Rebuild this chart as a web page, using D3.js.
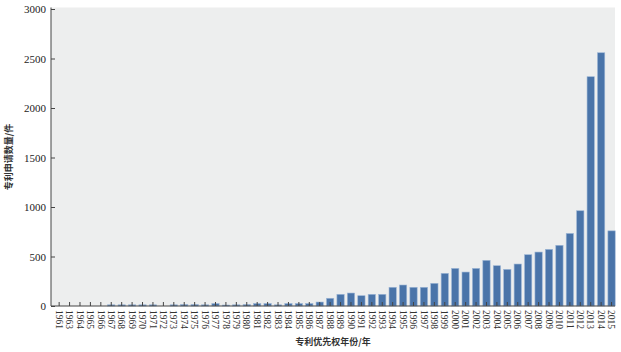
<!DOCTYPE html>
<html lang="zh">
<head>
  <meta charset="UTF-8">
  <title>专利申请数量</title>
  <style>
    body { margin: 0; background: #fff; }
    .tick text { font-family: "Liberation Serif", serif; fill: #222; }
    .axis-title { font-family: "Noto Sans CJK SC", sans-serif; font-weight: 700; font-size: 9px; fill: #333; }
  </style>
</head>
<body>
  <svg id="chart" width="621" height="352"></svg>
  <script src="https://d3js.org/d3.v7.min.js"></script>
  <script>
    // categories (no 1962 in the source)
    const years = ["1961","1963","1964","1965","1966","1967","1968","1969","1970","1971",
                   "1972","1973","1974","1975","1976","1977","1978","1979","1980","1981",
                   "1982","1983","1984","1985","1986","1987","1988","1989","1990","1991",
                   "1992","1993","1994","1995","1996","1997","1998","1999","2000","2001",
                   "2002","2003","2004","2005","2006","2007","2008","2009","2010","2011",
                   "2012","2013","2014","2015"];
    const counts = [0, 0, 0, 0, 0, 12, 12, 12, 12, 12,
                    0, 12, 15, 15, 12, 25, 10, 12, 15, 25,
                    25, 12, 25, 25, 25, 40, 78, 118, 131, 104,
                    118, 118, 189, 212, 189, 189, 229, 330, 380, 343,
                    380, 461, 407, 370, 424, 518, 545, 572, 613, 733,
                    962, 2316, 2558, 759];
    const yTicks = [0, 500, 1000, 1500, 2000, 2500, 3000];

    const svg = d3.select('#chart');
    const plotL = 51, plotR = 615, plotT = 7.5, plotB = 306;

    const x = d3.scaleBand().domain(years).range([55.5, 615.2]).paddingInner(0.3).paddingOuter(0);
    const y = d3.scaleLinear().domain([0, 3000]).range([plotB, 9]);

    // plot background
    svg.append('rect')
      .attr('x', plotL).attr('y', plotT)
      .attr('width', plotR - plotL).attr('height', plotB - plotT)
      .attr('fill', '#edeeee');

    // bars
    svg.selectAll('rect.bar')
      .data(years)
      .enter()
      .append('rect')
        .attr('class', 'bar')
        .attr('x', d => x(d))
        .attr('y', (d, i) => y(counts[i]))
        .attr('width', x.bandwidth())
        .attr('height', (d, i) => plotB - y(counts[i]))
        .attr('fill', '#4a74a9')
        .attr('stroke', '#9db6d6')
        .attr('stroke-width', 0.6);

    // y axis, ticks pointing inward
    const yAxis = svg.append('g')
      .attr('transform', `translate(${plotL},0)`)
      .call(d3.axisRight(y).tickValues(yTicks).tickFormat(d3.format('d')).tickSize(4).tickSizeOuter(0));
    yAxis.select('.domain').attr('stroke', '#444').attr('d', `M0,${plotT}V${plotB}`);
    yAxis.selectAll('.tick line').attr('stroke', '#444');
    yAxis.selectAll('.tick text')
      .attr('x', -5)
      .attr('text-anchor', 'end')
      .style('font-size', '11px');

    // x axis, ticks pointing up into the plot
    const xAxis = svg.append('g')
      .attr('transform', `translate(0,${plotB})`)
      .call(d3.axisTop(x).tickSize(4).tickSizeOuter(0));
    xAxis.select('.domain').attr('stroke', '#444').attr('d', `M${plotL},0H${plotR}`);
    xAxis.selectAll('.tick line').attr('stroke', '#444');
    xAxis.selectAll('.tick text')
      .attr('transform', 'rotate(90)')
      .attr('x', 4)
      .attr('y', 0)
      .attr('dy', '0.35em')
      .attr('text-anchor', 'start')
      .style('font-size', '9.5px')
      .style('fill', '#333');

    // axis titles
    svg.append('text')
      .attr('class', 'axis-title')
      .attr('transform', 'translate(12,157) rotate(-90)')
      .attr('text-anchor', 'middle')
      .text('专利申请数量/件');

    svg.append('text')
      .attr('class', 'axis-title')
      .attr('x', 333).attr('y', 345)
      .attr('text-anchor', 'middle')
      .text('专利优先权年份/年');
  </script>
</body>
</html>
